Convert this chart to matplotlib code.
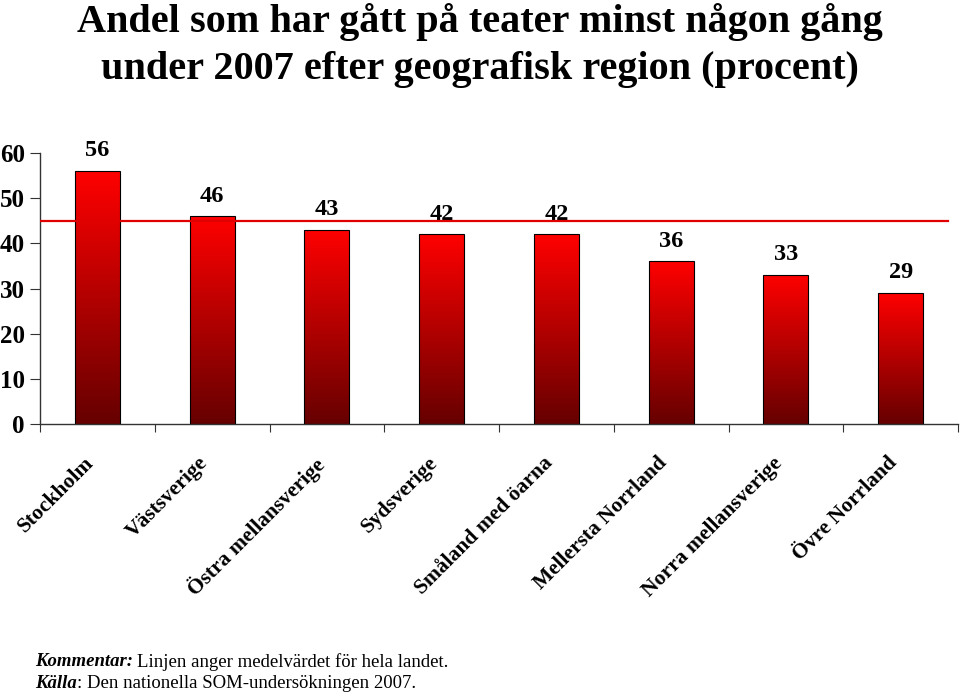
import matplotlib
matplotlib.use("Agg")
import matplotlib.pyplot as plt
import matplotlib.transforms as mtransforms
import numpy as np
from matplotlib.colors import LinearSegmentedColormap

categories = ["Stockholm", "Västsverige", "Östra mellansverige", "Sydsverige",
              "Småland med öarna", "Mellersta Norrland", "Norra mellansverige", "Övre Norrland"]
values = [56, 46, 43, 42, 42, 36, 33, 29]
national_mean = 45
yticks = [0, 10, 20, 30, 40, 50, 60]

plt.rcParams['font.family'] = ['Liberation Serif', 'DejaVu Serif']

fig = plt.figure(figsize=(9.6, 6.92), dpi=100)
ax = fig.add_axes([40/960, 1-424/692, 918/960, (424-153)/692])

cmap = LinearSegmentedColormap.from_list("redgrad", [(0.40, 0.0, 0.0), (1.0, 0.0, 0.0)])
grad = np.linspace(0, 1, 256).reshape(-1, 1)
width = 0.39
x = np.arange(len(categories))
bars = ax.bar(x, values, width=width, color='none', edgecolor='black', linewidth=0.8, zorder=3)
for b in bars:
    x0, y0 = b.get_x(), b.get_y()
    w, h = b.get_width(), b.get_height()
    im = ax.imshow(grad, extent=[x0, x0 + w, y0, y0 + h], origin='lower', aspect='auto',
                   cmap=cmap, zorder=2)
    im.set_clip_path(b)

for xi, v in zip(x, values):
    ax.annotate(str(v), (xi, v), xytext=(0, 7), textcoords='offset points',
                ha='center', va='bottom', fontsize=17.5, fontweight='bold')

ax.axhline(national_mean, xmin=0, xmax=908/918, color='#e00000', linewidth=1.6, zorder=4)

ax.set_xlim(-0.5, len(categories) - 0.5)
ax.set_ylim(0, 60)
ax.set_yticks(yticks)
ax.set_yticklabels([str(t) for t in yticks], fontsize=18, fontweight='bold')
ax.set_xticks(np.arange(len(categories) + 1) - 0.5)
ax.set_xticklabels([])
ax.tick_params(axis='x', which='major', length=6, direction='out', color='#333333')
ax.tick_params(axis='y', length=7, direction='out', color='#333333', pad=4)

label_tr = ax.get_xaxis_transform() + mtransforms.ScaledTranslation(-14/100, -29/100, fig.dpi_scale_trans)
for xi, c in zip(x, categories):
    ax.text(xi, 0, c, transform=label_tr, rotation=45, ha='right', va='top',
            rotation_mode='anchor', fontsize=15.5, fontweight='bold')

for s in ['top', 'right']:
    ax.spines[s].set_visible(False)
for s in ['left', 'bottom']:
    ax.spines[s].set_color('#333333')
    ax.spines[s].set_linewidth(1.0)

fig.text(0.5, 1-22/692, "Andel som har gått på teater minst någon gång", ha='center', va='center',
         fontsize=29, fontweight='bold')
fig.text(0.5, 1-70/692, "under 2007 efter geografisk region (procent)", ha='center', va='center',
         fontsize=29, fontweight='bold')

t1 = fig.text(35/960, 1-662/692, "Kommentar:", ha='left', va='center', fontsize=13.5,
              fontweight='bold', fontstyle='italic')
t2 = fig.text(35/960, 1-683/692, "Källa", ha='left', va='center', fontsize=13.5,
              fontweight='bold', fontstyle='italic')
fig.canvas.draw()
r = fig.canvas.get_renderer()
bb1 = t1.get_window_extent(r)
bb2 = t2.get_window_extent(r)
fig.text((bb1.x1 + 4) / 960, 1-662/692, "Linjen anger medelvärdet för hela landet.",
         ha='left', va='center', fontsize=13.5)
fig.text(bb2.x1 / 960, 1-683/692, ": Den nationella SOM-undersökningen 2007.",
         ha='left', va='center', fontsize=13.5)

fig.savefig("out.png", dpi=100)
